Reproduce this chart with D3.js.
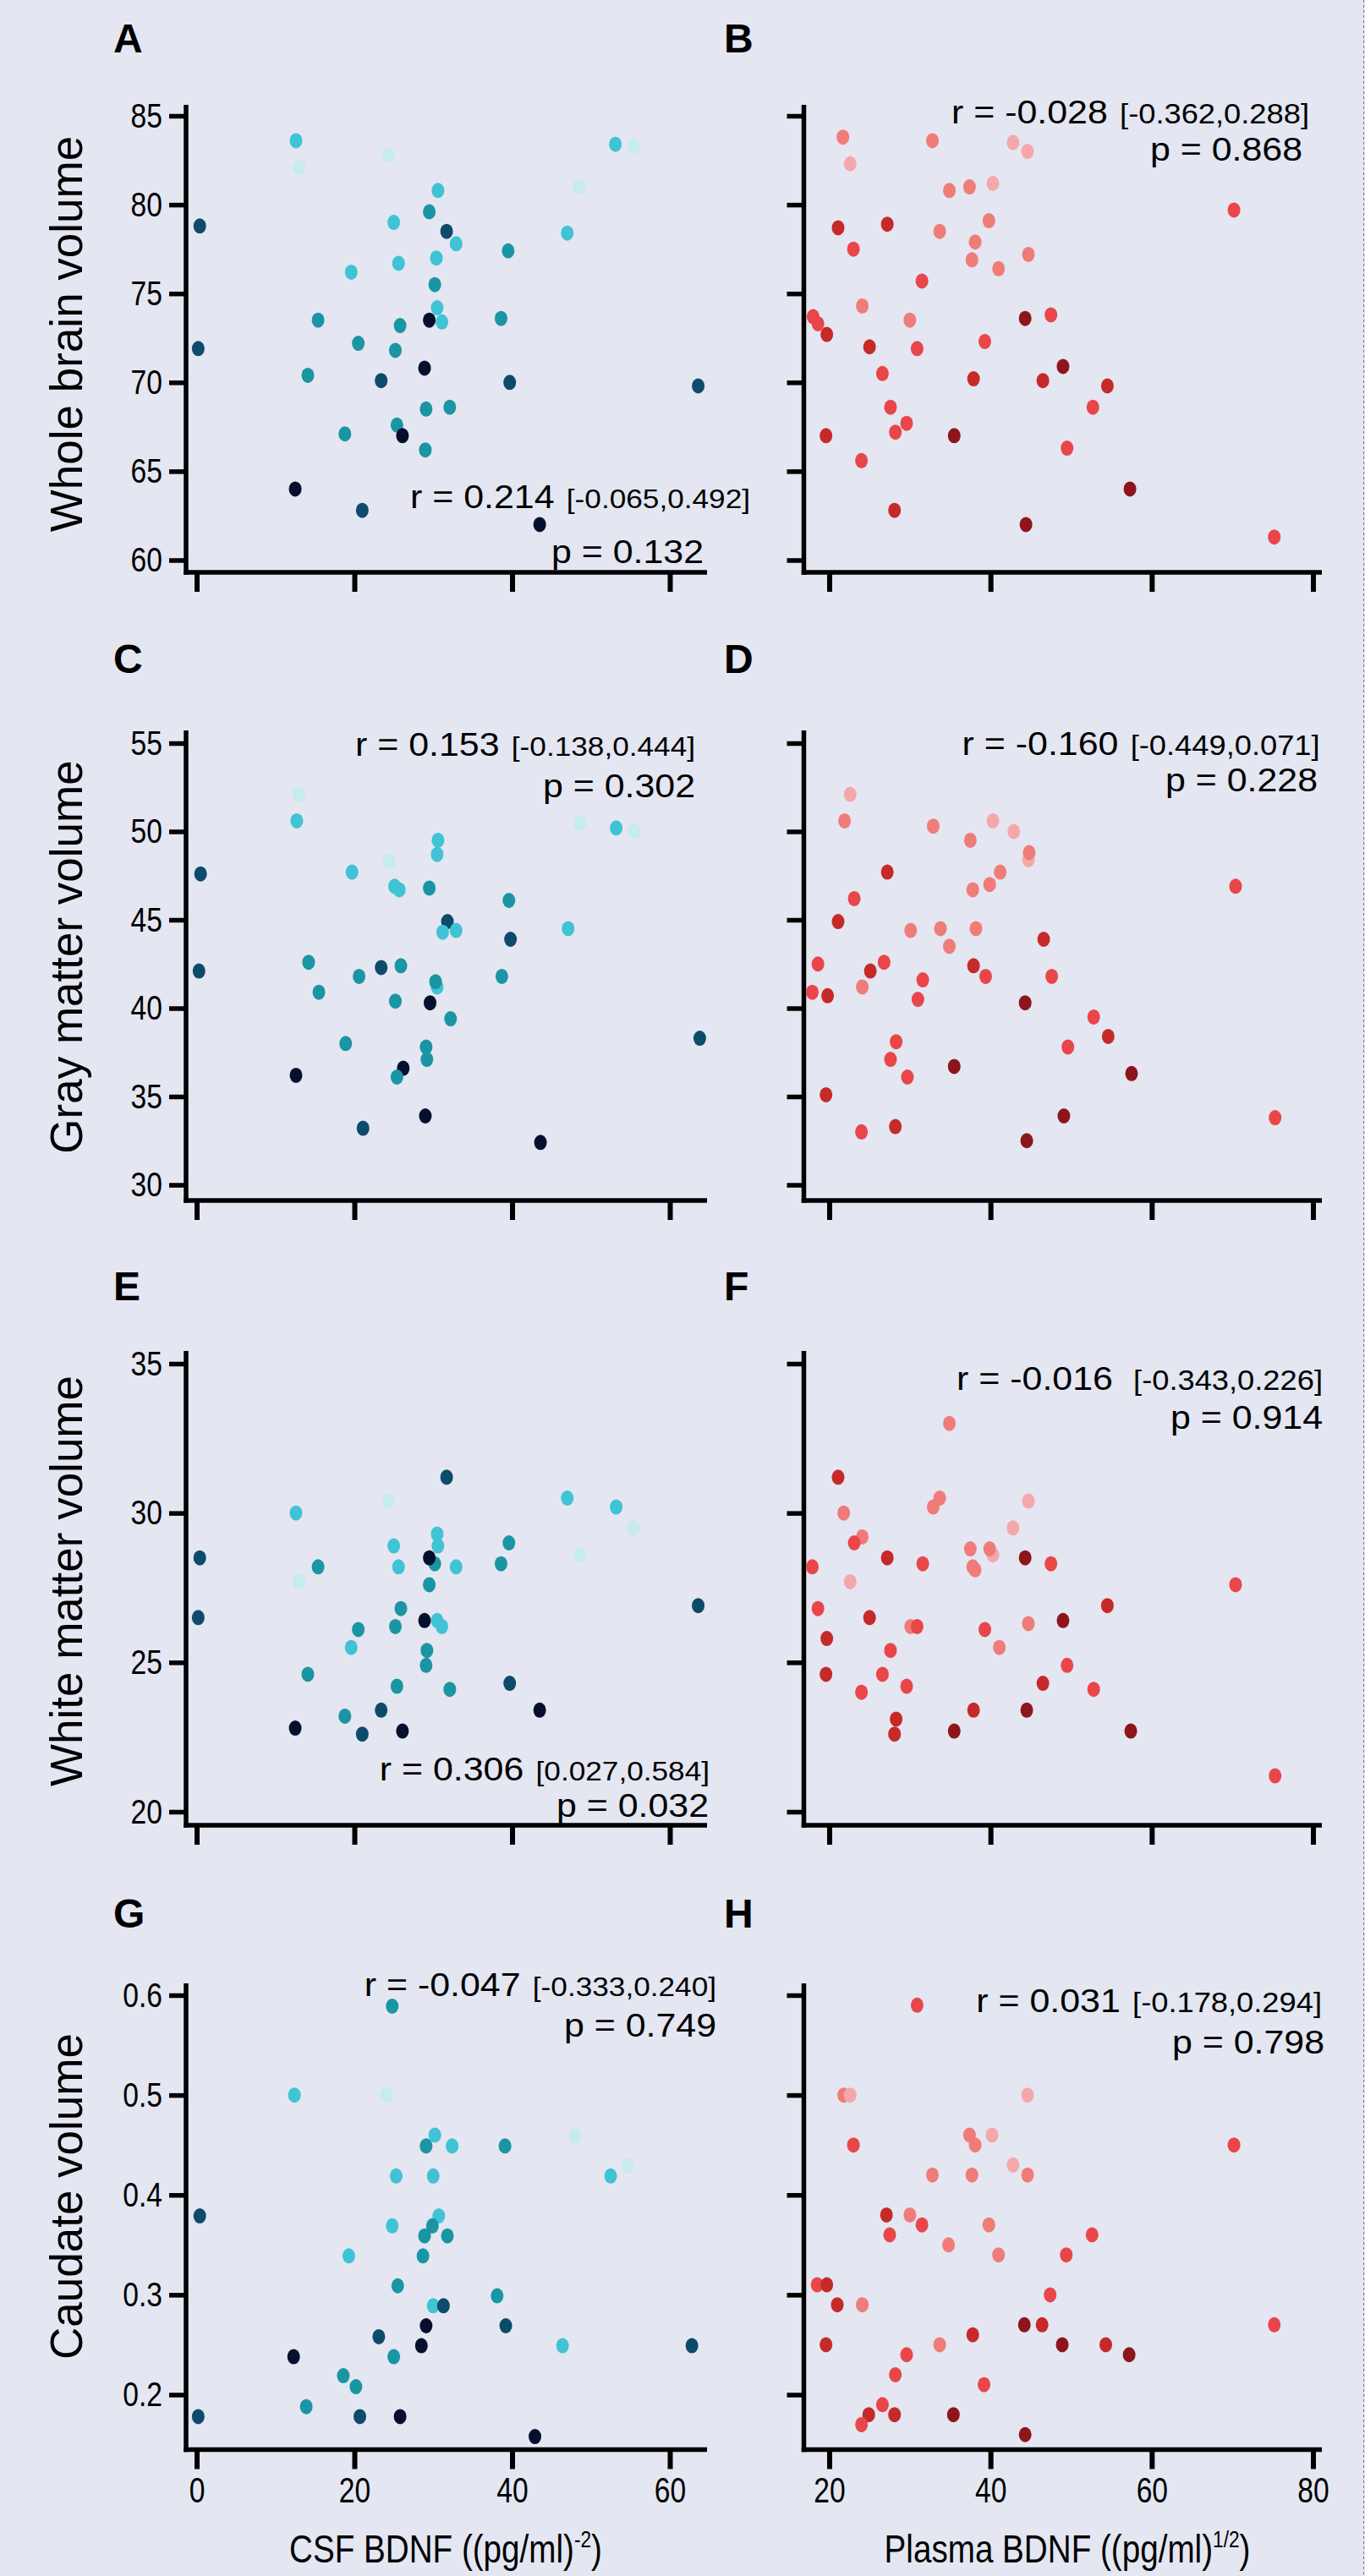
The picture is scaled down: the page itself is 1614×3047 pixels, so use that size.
<!DOCTYPE html>
<html>
<head>
<meta charset="utf-8">
<script src="https://cdn.jsdelivr.net/npm/d3@7"></script>
<style>
html, body { margin: 0; padding: 0; background: #e4e6f1; }
svg text { font-family: "Liberation Sans", Arial, sans-serif; fill: #000; }
</style>
</head>
<body>
<script>
var width = 1614, height = 3047;

// colour groups, darkest -> lightest
const csfColours = ["#070f2e", "#0d4b6b", "#1a95a3", "#3fc3d5", "#c6ebf0"];
const plasmaColours = ["#8c161c", "#c52a29", "#e9464a", "#ef7c79", "#f5a8ab"];

const panelLetters = ["A", "B", "C", "D", "E", "F", "G", "H"];
const yTitles = ["Whole brain volume", "Gray matter volume", "White matter volume", "Caudate volume"];
const yTickValues = [[60, 65, 70, 75, 80, 85], [30, 35, 40, 45, 50, 55], [20, 25, 30, 35], [0.2, 0.3, 0.4, 0.5, 0.6]];
const csfTicks = [0, 20, 40, 60];
const plasmaTicks = [20, 40, 60, 80];

// stats text per panel A..H
const rValues = ["0.214", "-0.028", "0.153", "-0.160", "0.306", "-0.016", "-0.047", "0.031"];
const ciValues = ["[-0.065,0.492]", "[-0.362,0.288]", "[-0.138,0.444]", "[-0.449,0.071]",
    "[0.027,0.584]", "[-0.343,0.226]", "[-0.333,0.240]", "[-0.178,0.294]"];
const pValues = ["0.132", "0.868", "0.302", "0.228", "0.032", "0.914", "0.749", "0.798"];

// points: [BDNF, volume, colour group]
const wholeBrainCsf = [[12.6,83.6,3],[13.0,82.1,4],[24.3,82.8,4],[53.1,83.4,3],[55.4,83.3,4],[48.5,81.0,4],[30.6,80.8,3],[29.5,79.6,2],[0.4,78.8,1],[25.0,79.0,3],[31.7,78.5,1],[32.9,77.8,3],[47.0,78.4,3],[39.5,77.4,2],[30.4,77.0,3],[25.6,76.7,3],[19.6,76.2,3],[30.2,75.5,2],[30.5,74.2,3],[15.4,73.5,2],[29.5,73.5,0],[31.1,73.4,3],[25.8,73.2,2],[38.6,73.6,2],[0.2,71.9,1],[20.5,72.2,2],[25.2,71.8,2],[28.9,70.8,0],[14.1,70.4,2],[23.4,70.1,1],[39.7,70.0,1],[63.6,69.8,1],[29.1,68.5,2],[32.1,68.6,2],[18.8,67.1,2],[25.4,67.6,2],[26.1,67.0,0],[29.0,66.2,2],[12.5,64.0,0],[21.0,62.8,1],[43.5,62.0,0]];
const wholeBrainPlasma = [[21.7,83.8,3],[22.6,82.3,4],[32.8,83.6,3],[42.8,83.5,4],[44.6,83.0,4],[40.3,81.2,4],[34.9,80.8,3],[37.4,81.0,3],[70.2,79.7,2],[21.1,78.7,1],[27.2,78.9,1],[33.7,78.5,3],[39.8,79.1,3],[38.1,77.9,3],[23.0,77.5,2],[37.7,76.9,3],[41.0,76.4,3],[44.7,77.2,3],[31.5,75.7,2],[24.1,74.3,3],[18.0,73.7,2],[18.6,73.3,2],[30.0,73.5,3],[44.3,73.6,0],[47.5,73.8,2],[19.7,72.7,1],[25.0,72.0,1],[30.9,71.9,2],[39.3,72.3,2],[26.6,70.5,2],[49.0,70.9,0],[37.9,70.2,1],[46.5,70.1,1],[54.5,69.8,1],[52.7,68.6,2],[27.6,68.6,2],[29.6,67.7,2],[28.2,67.2,2],[19.6,67.0,1],[35.5,67.0,0],[49.5,66.3,2],[24.0,65.6,2],[57.3,64.0,0],[28.1,62.8,1],[44.4,62.0,0],[75.2,61.3,2]];
const grayCsf = [[13.0,52.1,4],[12.7,50.6,3],[24.4,48.3,4],[30.6,49.5,3],[30.5,48.7,3],[48.6,50.5,4],[53.2,50.2,3],[55.5,50.0,4],[0.5,47.6,1],[19.7,47.7,3],[25.1,46.9,3],[25.7,46.7,3],[29.5,46.8,2],[39.6,46.1,2],[31.8,44.9,1],[31.2,44.3,3],[32.9,44.4,3],[47.1,44.5,3],[39.8,43.9,1],[0.3,42.1,1],[14.2,42.6,2],[23.4,42.3,1],[25.9,42.4,2],[20.6,41.8,2],[38.7,41.8,2],[30.5,41.2,3],[30.3,41.5,2],[15.5,40.9,2],[25.2,40.4,2],[29.6,40.3,0],[32.2,39.4,2],[18.9,38.0,2],[63.8,38.3,1],[29.1,37.8,2],[29.2,37.1,2],[26.2,36.6,0],[25.4,36.1,2],[12.6,36.2,0],[21.1,33.2,1],[29.0,33.9,0],[43.6,32.4,0]];
const grayPlasma = [[22.6,52.1,4],[21.9,50.6,3],[32.9,50.3,3],[40.3,50.6,4],[42.9,50.0,4],[37.5,49.5,3],[44.7,48.4,4],[44.8,48.8,3],[41.2,47.7,3],[39.9,47.0,3],[37.8,46.7,3],[70.4,46.9,2],[27.2,47.7,1],[23.1,46.2,2],[21.1,44.9,1],[30.1,44.4,3],[33.8,44.5,3],[38.2,44.5,3],[34.9,43.5,3],[46.6,43.9,1],[18.6,42.5,2],[26.8,42.6,2],[25.1,42.1,1],[37.9,42.4,1],[39.4,41.8,2],[47.6,41.8,2],[31.6,41.6,2],[17.9,40.9,2],[19.8,40.7,1],[24.1,41.2,3],[31.0,40.5,2],[44.3,40.3,0],[52.8,39.5,2],[54.6,38.4,1],[28.3,38.1,2],[27.6,37.1,2],[35.5,36.7,0],[49.6,37.8,2],[57.5,36.3,0],[29.7,36.1,2],[19.6,35.1,1],[49.1,33.9,0],[75.3,33.8,2],[24.0,33.0,2],[28.2,33.3,1],[44.5,32.5,0]];
const whiteCsf = [[31.7,31.2,1],[24.3,30.4,4],[12.6,30.0,3],[47.0,30.5,3],[53.2,30.2,3],[55.4,29.5,4],[30.5,29.3,3],[30.6,28.9,3],[25.0,28.9,3],[39.6,29.0,2],[0.4,28.5,1],[30.2,28.3,2],[29.5,28.5,0],[38.6,28.3,2],[15.4,28.2,2],[25.6,28.2,3],[32.9,28.2,3],[48.6,28.6,4],[13.0,27.7,4],[29.5,27.6,2],[25.9,26.8,2],[0.2,26.5,1],[63.6,26.9,1],[20.5,26.1,2],[25.2,26.2,2],[30.5,26.4,3],[31.1,26.2,3],[28.9,26.4,0],[19.6,25.5,3],[29.2,25.4,2],[29.1,24.9,2],[14.1,24.6,2],[25.4,24.2,2],[32.1,24.1,2],[39.7,24.3,1],[18.8,23.2,2],[23.4,23.4,1],[43.5,23.4,0],[12.5,22.8,0],[21.0,22.6,1],[26.1,22.7,0]];
const whitePlasma = [[34.9,33.0,3],[21.1,31.2,1],[33.7,30.5,3],[32.9,30.2,3],[21.8,30.0,3],[44.7,30.4,4],[42.8,29.5,4],[24.1,29.2,3],[23.1,29.0,2],[37.5,28.8,3],[40.3,28.6,4],[39.9,28.8,3],[27.2,28.5,1],[31.6,28.3,2],[17.9,28.2,2],[44.3,28.5,0],[47.5,28.3,2],[37.8,28.2,3],[38.1,28.1,3],[22.6,27.7,4],[70.4,27.6,2],[18.6,26.8,2],[54.5,26.9,1],[25.0,26.5,1],[49.0,26.4,0],[30.1,26.2,3],[30.9,26.2,2],[44.7,26.3,3],[39.3,26.1,2],[19.7,25.8,1],[41.1,25.5,3],[27.6,25.4,2],[49.5,24.9,2],[19.6,24.6,1],[26.6,24.6,2],[29.6,24.2,2],[46.5,24.3,1],[24.0,24.0,2],[52.8,24.1,2],[37.9,23.4,1],[44.5,23.4,0],[28.3,23.1,1],[28.1,22.6,1],[35.5,22.7,0],[57.4,22.7,0],[75.3,21.2,2]];
const caudateCsf = [[24.8,0.589,2],[12.4,0.500,3],[24.1,0.500,4],[30.2,0.460,3],[29.1,0.449,2],[32.4,0.449,3],[39.1,0.449,2],[48.0,0.459,4],[54.7,0.429,4],[52.5,0.419,3],[25.3,0.419,3],[30.0,0.419,3],[0.4,0.379,1],[30.7,0.379,3],[24.8,0.369,3],[29.9,0.369,2],[28.9,0.359,2],[31.8,0.359,2],[19.3,0.339,3],[28.7,0.339,2],[25.5,0.309,2],[38.1,0.299,2],[30.0,0.289,3],[31.3,0.289,1],[29.1,0.269,0],[39.2,0.269,1],[23.1,0.258,1],[28.5,0.249,0],[46.4,0.249,3],[62.8,0.249,1],[12.3,0.238,0],[25.0,0.238,2],[18.6,0.219,2],[20.2,0.208,2],[13.9,0.188,2],[0.2,0.178,1],[20.7,0.178,1],[25.8,0.178,0],[42.9,0.158,0]];
const caudatePlasma = [[30.9,0.590,2],[21.8,0.500,3],[22.6,0.500,4],[44.6,0.500,4],[23.0,0.450,2],[37.4,0.460,3],[38.1,0.450,3],[40.2,0.460,4],[70.2,0.450,2],[42.8,0.430,4],[32.8,0.420,3],[37.7,0.420,3],[44.6,0.420,3],[27.1,0.380,1],[30.0,0.380,3],[31.5,0.370,2],[39.8,0.370,3],[27.5,0.360,2],[52.6,0.360,2],[34.8,0.350,3],[41.0,0.340,3],[49.4,0.340,2],[18.5,0.310,2],[19.7,0.310,1],[47.4,0.300,2],[21.0,0.290,1],[24.1,0.290,3],[44.2,0.270,0],[46.4,0.270,1],[75.2,0.270,2],[19.6,0.250,1],[33.7,0.250,3],[37.8,0.260,1],[48.9,0.250,0],[54.3,0.250,1],[57.2,0.240,0],[29.6,0.240,2],[28.2,0.220,2],[39.2,0.210,2],[26.6,0.190,2],[24.9,0.180,1],[28.1,0.180,1],[24.0,0.170,2],[35.4,0.180,0],[44.3,0.160,0]];

const panelData = [wholeBrainCsf, wholeBrainPlasma, grayCsf, grayPlasma, whiteCsf, whitePlasma, caudateCsf, caudatePlasma];

// layout (pixels)
const rows = [
    { top: 124, bottom: 677, hi: 137, lo: 662.5, titleY: 395, letterY: 62 },
    { top: 864, bottom: 1420, hi: 879, lo: 1401.5, titleY: 1132, letterY: 796 },
    { top: 1598, bottom: 2159, hi: 1613, lo: 2143, titleY: 1870, letterY: 1538 },
    { top: 2346, bottom: 2897.5, hi: 2360, lo: 2832.5, titleY: 2598, letterY: 2280 }
];
const cols = [
    { axisX: 220, x0: 232.5, x1: 792, end: 836, letterX: 134, colours: csfColours, ticks: csfTicks, titleX: 527 },
    { axisX: 950.5, x0: 980.5, x1: 1552.5, end: 1563, letterX: 856, colours: plasmaColours, ticks: plasmaTicks, titleX: 1262 }
];
// stats text anchor: [r right, r baseline, p right, p baseline]
const statPos = [
    [887, 601, 832, 666], [1548, 146, 1540, 190.5],
    [822, 893.6, 822, 942.7], [1560.6, 893.5, 1558, 936],
    [839, 2106.5, 838, 2148.7], [1564, 1643.6, 1564, 1689.6],
    [847, 2361, 847, 2409.5], [1563, 2380, 1566, 2429]
];

var svg = d3.select("body")
    .append("svg")
    .attr("width", width)
    .attr("height", height);

svg.append("rect")
    .attr("width", width)
    .attr("height", height)
    .attr("fill", "#e4e6f1");

// dotted page edge on the right
svg.append("line")
    .attr("x1", 1612.5).attr("x2", 1612.5)
    .attr("y1", 0).attr("y2", height)
    .attr("stroke", "#77777f")
    .attr("stroke-width", 1)
    .attr("stroke-dasharray", "3,3");

// stretch/squeeze text horizontally around its own x
function squeeze(sel, x, k) {
    sel.attr("x", x / k).attr("transform", "scale(" + k + ",1)");
}

var axisW = 5.5;

rows.forEach(function(row, r) {
    cols.forEach(function(col, c) {
        var i = r * 2 + c;
        var yt = yTickValues[r];
        var y = d3.scaleLinear()
            .domain([yt[0], yt[yt.length - 1]])
            .range([row.lo, row.hi]);
        var x = d3.scaleLinear()
            .domain([col.ticks[0], col.ticks[col.ticks.length - 1]])
            .range([col.x0, col.x1]);

        var g = svg.append("g");

        // y axis
        var yAxis = g.append("g")
            .attr("transform", "translate(" + col.axisX + ",0)")
            .call(d3.axisLeft(y)
                .tickValues(yt)
                .tickSize(20)
                .tickPadding(8)
                .tickFormat(function(d) { return c == 0 ? String(d) : ""; }));
        yAxis.select(".domain").remove();
        yAxis.selectAll(".tick line")
            .attr("stroke", "#000")
            .attr("stroke-width", axisW);
        yAxis.selectAll(".tick text")
            .attr("font-size", 41)
            .attr("font-family", null)
            .each(function() {
                squeeze(d3.select(this), -28, 0.82);
            });

        // x axis
        var xAxis = g.append("g")
            .attr("transform", "translate(0," + row.bottom + ")")
            .call(d3.axisBottom(x)
                .tickValues(col.ticks)
                .tickSize(23)
                .tickPadding(10)
                .tickFormat(function(d) { return r == 3 ? String(d) : ""; }));
        xAxis.select(".domain").remove();
        xAxis.selectAll(".tick line")
            .attr("stroke", "#000")
            .attr("stroke-width", axisW + 0.5);
        xAxis.selectAll(".tick text")
            .attr("font-size", 42)
            .attr("font-family", null)
            .each(function() {
                squeeze(d3.select(this), 0, 0.8);
            });

        // axis lines
        g.append("line")
            .attr("x1", col.axisX).attr("x2", col.axisX)
            .attr("y1", row.top).attr("y2", row.bottom + axisW / 2)
            .attr("stroke", "#000")
            .attr("stroke-width", axisW);
        g.append("line")
            .attr("x1", col.axisX - axisW / 2).attr("x2", col.end)
            .attr("y1", row.bottom).attr("y2", row.bottom)
            .attr("stroke", "#000")
            .attr("stroke-width", axisW);

        // points
        g.selectAll(".dot")
            .data(panelData[i])
            .enter()
            .append("ellipse")
            .attr("class", "dot")
            .attr("cx", function(d) { return x(d[0]); })
            .attr("cy", function(d) { return y(d[1]); })
            .attr("rx", 7.5)
            .attr("ry", 9)
            .attr("fill", function(d) { return col.colours[d[2]]; });

        // stats
        var sp = statPos[i];
        var rt = g.append("text")
            .attr("y", sp[1])
            .attr("text-anchor", "end");
        rt.append("tspan")
            .attr("font-size", 39)
            .text("r = " + rValues[i]);
        rt.append("tspan")
            .attr("font-size", c == 0 ? 32 : 33)
            .attr("dx", i == 5 ? 22 : 13)
            .text(ciValues[i]);
        squeeze(rt, sp[0], 1.1);

        var pt = g.append("text")
            .attr("y", sp[3])
            .attr("text-anchor", "end")
            .attr("font-size", 39)
            .text("p = " + pValues[i]);
        squeeze(pt, sp[2], 1.1);

        // panel letter
        g.append("text")
            .attr("x", col.letterX)
            .attr("y", row.letterY)
            .attr("font-size", 48)
            .attr("font-weight", "bold")
            .text(panelLetters[i]);

        // y title on the left column
        if (c == 0) {
            g.append("text")
                .attr("transform", "translate(97," + row.titleY + ") rotate(-90)")
                .attr("text-anchor", "middle")
                .attr("font-size", 53)
                .text(yTitles[r]);
        }

        // x titles on the bottom row
        if (r == 3) {
            var xt = g.append("text")
                .attr("y", 3031.5)
                .attr("text-anchor", "middle")
                .attr("font-size", 46);
            xt.append("tspan").text(c == 0 ? "CSF BDNF ((pg/ml)" : "Plasma BDNF ((pg/ml)");
            xt.append("tspan")
                .attr("font-size", 27)
                .attr("dy", -18)
                .text(c == 0 ? "-2" : "1/2");
            xt.append("tspan")
                .attr("dy", 18)
                .text(")");
            squeeze(xt, col.titleX, 0.84);
        }
    });
});
</script>
</body>
</html>
